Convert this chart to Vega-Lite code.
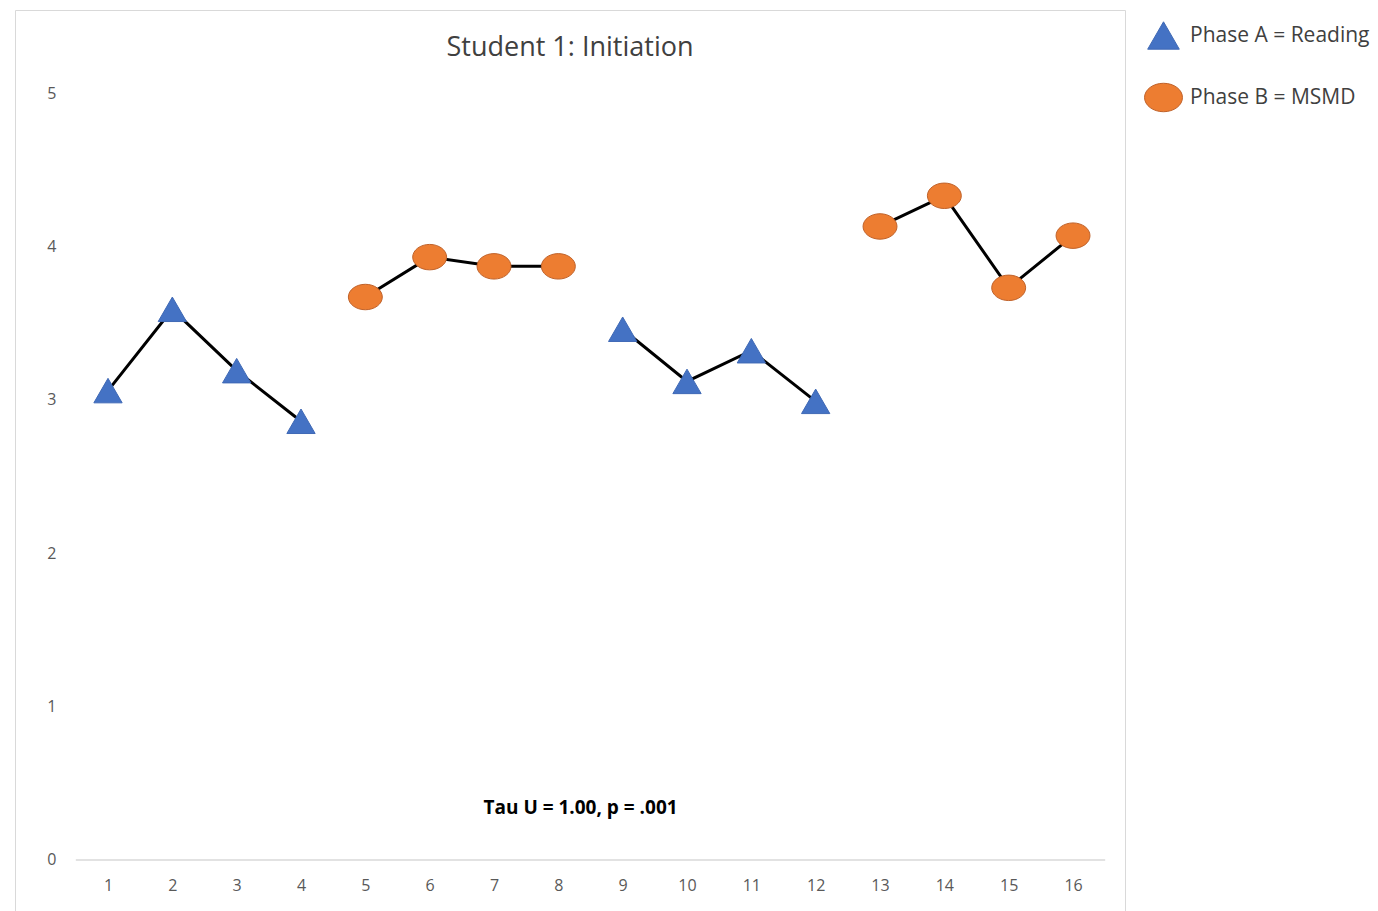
{
  "$schema": "https://vega.github.io/schema/vega-lite/v6.json",
  "width": 1110,
  "height": 901,
  "autosize": "none",
  "padding": {"left": 15, "top": 10, "right": 253, "bottom": 0},
  "background": "white",
  "config": {"view": {"stroke": "#d9d9d9", "strokeWidth": 1}, "font": "Open Sans"},
  "title": {"text": "Student 1: Initiation", "anchor": "middle", "frame": "group", "offset": -52, "fontSize": 27, "font": "Open Sans", "fontWeight": "normal", "color": "#404040"},
  "datasets": {
    "points": [
      {"session": 1, "score": 3.06, "phase": "Phase A = Reading", "seg": "A1"},
      {"session": 2, "score": 3.59, "phase": "Phase A = Reading", "seg": "A1"},
      {"session": 3, "score": 3.19, "phase": "Phase A = Reading", "seg": "A1"},
      {"session": 4, "score": 2.86, "phase": "Phase A = Reading", "seg": "A1"},
      {"session": 5, "score": 3.67, "phase": "Phase B = MSMD", "seg": "B1"},
      {"session": 6, "score": 3.93, "phase": "Phase B = MSMD", "seg": "B1"},
      {"session": 7, "score": 3.87, "phase": "Phase B = MSMD", "seg": "B1"},
      {"session": 8, "score": 3.87, "phase": "Phase B = MSMD", "seg": "B1"},
      {"session": 9, "score": 3.46, "phase": "Phase A = Reading", "seg": "A2"},
      {"session": 10, "score": 3.12, "phase": "Phase A = Reading", "seg": "A2"},
      {"session": 11, "score": 3.32, "phase": "Phase A = Reading", "seg": "A2"},
      {"session": 12, "score": 2.99, "phase": "Phase A = Reading", "seg": "A2"},
      {"session": 13, "score": 4.13, "phase": "Phase B = MSMD", "seg": "B2"},
      {"session": 14, "score": 4.33, "phase": "Phase B = MSMD", "seg": "B2"},
      {"session": 15, "score": 3.73, "phase": "Phase B = MSMD", "seg": "B2"},
      {"session": 16, "score": 4.07, "phase": "Phase B = MSMD", "seg": "B2"}
    ],
    "baseline": [{"session": 0.5, "session_end": 16.5, "score": 0}],
    "note": [{"session": 8.345, "score": 0.339, "label": "Tau U = 1.00, p = .001"}]
  },
  "encoding": {
    "x": {
      "field": "session", "type": "quantitative",
      "scale": {"domain": [-0.4456, 16.808], "nice": false, "zero": false},
      "axis": {"values": [1,2,3,4,5,6,7,8,9,10,11,12,13,14,15,16], "format": "d", "ticks": false, "tickSize": 0, "domain": false, "grid": false, "labelFontSize": 16, "labelColor": "#595959", "labelPadding": 1, "offset": -35, "title": null, "labelFont": "Open Sans", "labelFlush": false}
    },
    "y": {
      "field": "score", "type": "quantitative",
      "scale": {"domain": [-0.3325, 5.5411], "nice": false, "zero": false},
      "axis": {"values": [0,1,2,3,4,5], "format": "d", "ticks": false, "tickSize": 0, "domain": false, "grid": false, "labelFontSize": 16, "labelColor": "#595959", "labelPadding": 3, "offset": -44, "title": null, "labelFont": "Open Sans", "labelFlush": false}
    }
  },
  "layer": [
    {
      "data": {"name": "baseline"},
      "mark": {"type": "rule", "color": "#d9d9d9", "strokeWidth": 1.5},
      "encoding": {"x2": {"field": "session_end"}}
    },
    {
      "data": {"name": "points"},
      "mark": {"type": "line", "color": "black", "strokeWidth": 3},
      "encoding": {"detail": {"field": "seg", "type": "nominal"}}
    },
    {
      "data": {"name": "points"},
      "mark": {"type": "point", "filled": true, "size": 800, "strokeWidth": 1, "opacity": 1},
      "encoding": {
        "shape": {
          "field": "phase", "type": "nominal",
          "scale": {"domain": ["Phase A = Reading", "Phase B = MSMD"], "range": ["triangle-up", "M-1.2,0A1.2,0.9 0 1,0 1.2,0A1.2,0.9 0 1,0 -1.2,0Z"]},
          "legend": {"title": null, "orient": "none", "legendX": 1132, "legendY": 9, "symbolSize": 1000, "labelFontSize": 21, "labelColor": "#404040", "labelOffset": 10, "rowPadding": 29, "padding": 0, "labelFont": "Open Sans", "labelLimit": 300, "symbolStrokeWidth": 1}
        },
        "fill": {
          "field": "phase", "type": "nominal",
          "scale": {"domain": ["Phase A = Reading", "Phase B = MSMD"], "range": ["#4472C4", "#ED7D31"]}
        },
        "stroke": {
          "field": "phase", "type": "nominal",
          "scale": {"domain": ["Phase A = Reading", "Phase B = MSMD"], "range": ["#3F69B5", "#C0622A"]}
        }
      }
    },
    {
      "data": {"name": "note"},
      "mark": {"type": "text", "fontWeight": "bold", "fontSize": 19, "color": "black", "font": "Open Sans", "align": "center", "baseline": "middle"},
      "encoding": {"text": {"field": "label"}}
    }
  ]
}
